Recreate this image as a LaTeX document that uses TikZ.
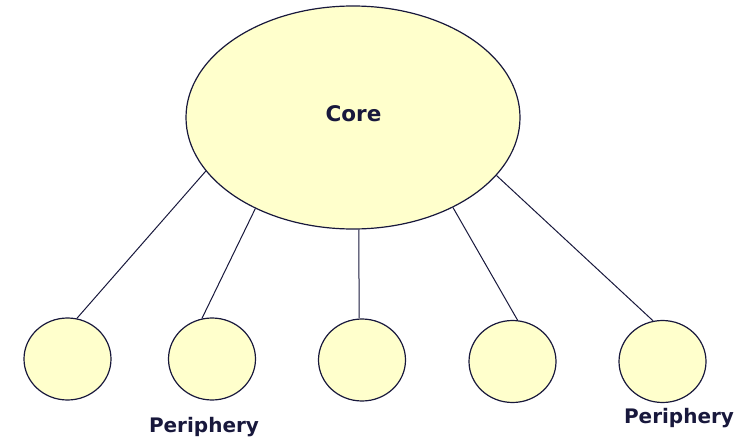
\documentclass[tikz,border=0pt]{standalone}
\usepackage{fontspec}
\setmainfont{DejaVu Sans}
\usetikzlibrary{shapes.geometric}
\definecolor{pale}{HTML}{FFFFCC}
\definecolor{ink}{HTML}{18183C}
\begin{document}
\begin{tikzpicture}[x=1pt,y=-1pt,
  blob/.style={ellipse,draw=ink,fill=pale,line width=1.2pt,inner sep=0pt},
  core/.style={blob,minimum width=334pt,minimum height=223pt},
  peri/.style={blob,minimum width=87pt,minimum height=82pt},
  link/.style={draw=ink,line width=1pt},
  lbl/.style={text=ink,font=\bfseries\fontsize{20}{24}\selectfont,anchor=base,inner sep=0pt}]
\useasboundingbox (0,0) rectangle (751,441);
% central node
\node[core] (core) at (353,117.5) {};
\node[lbl,font=\bfseries\fontsize{21.5}{26}\selectfont] (coretext) at (353.5,121.5) {Core};
% peripheral nodes
\node[peri] (p1) at (67.5,359) {};
\node[peri] (p2) at (212,359) {};
\node[peri] (p3) at (362,360) {};
\node[peri] (p4) at (512.5,361.5) {};
\node[peri] (p5) at (662.5,361.5) {};
% ties from the core to each peripheral node
\draw[link] (core.200.9) -- (p1.77);
\draw[link] (core.223) -- (p2.104.4);
\draw[link] (core.273.1) -- (p3.94);
\draw[link] (core.318.2) -- (p4.83.7);
\draw[link] (core.338.9) -- (p5.103.5);
% labels
\node[lbl] (l1) at (204,432) {Periphery};
\node[lbl] (l2) at (679,423) {Periphery};
\end{tikzpicture}
\end{document}
